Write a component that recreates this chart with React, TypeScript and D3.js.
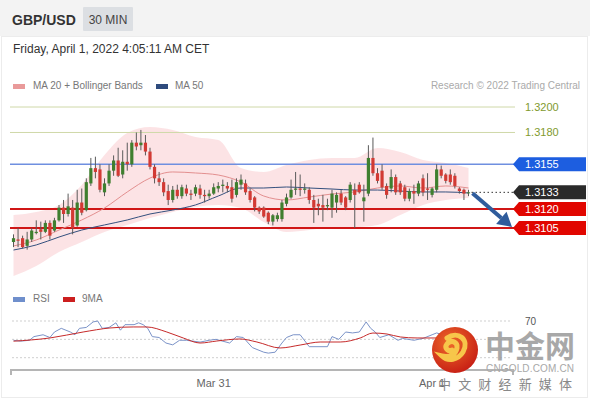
import React from 'react';
import * as d3 from 'd3';

// ---------- DATA ----------
const opens = [
  1.3094, 1.3096, 1.3097, 1.3091, 1.3096, 1.3101, 1.3104, 1.3102, 1.3109, 1.3103,
  1.3111, 1.3121, 1.3116, 1.3121, 1.3107, 1.3125, 1.3119, 1.3140, 1.3152, 1.3151,
  1.3133, 1.3140, 1.3150, 1.3158, 1.3147, 1.3157, 1.3155, 1.3172, 1.3170, 1.3172,
  1.3165, 1.3153, 1.3144, 1.3141, 1.3134, 1.3127, 1.3135, 1.3130, 1.3136, 1.3132,
  1.3132, 1.3136, 1.3131, 1.3130, 1.3132, 1.3136, 1.3138, 1.3138, 1.3137, 1.3131,
  1.3139, 1.3140, 1.3134, 1.3129, 1.3121, 1.3121, 1.3117, 1.3110, 1.3112, 1.3112,
  1.3124, 1.3129, 1.3135, 1.3136, 1.3135, 1.3135, 1.3127, 1.3124, 1.3123, 1.3122,
  1.3121, 1.3125, 1.3132, 1.3129, 1.3127, 1.3135, 1.3139, 1.3126, 1.3132, 1.3160,
  1.3148, 1.3150, 1.3138, 1.3136, 1.3145, 1.3140, 1.3137, 1.3128, 1.3134, 1.3132,
  1.3144, 1.3136, 1.3131, 1.3135, 1.3151, 1.3147, 1.3147, 1.3146, 1.3136, 1.3135, 1.3133,
];
const highs = [
  1.3100, 1.3105, 1.3099, 1.3102, 1.3105, 1.3111, 1.3110, 1.3111, 1.3111, 1.3113,
  1.3123, 1.3127, 1.3132, 1.3127, 1.3135, 1.3136, 1.3144, 1.3160, 1.3161, 1.3155,
  1.3144, 1.3155, 1.3162, 1.3168, 1.3166, 1.3172, 1.3174, 1.3180, 1.3182, 1.3178,
  1.3168, 1.3155, 1.3149, 1.3144, 1.3139, 1.3138, 1.3139, 1.3139, 1.3139, 1.3135,
  1.3139, 1.3139, 1.3135, 1.3135, 1.3140, 1.3141, 1.3143, 1.3141, 1.3143, 1.3144,
  1.3147, 1.3143, 1.3136, 1.3130, 1.3122, 1.3122, 1.3118, 1.3116, 1.3117, 1.3127,
  1.3132, 1.3143, 1.3149, 1.3147, 1.3140, 1.3137, 1.3131, 1.3128, 1.3131, 1.3128,
  1.3135, 1.3133, 1.3135, 1.3130, 1.3141, 1.3140, 1.3141, 1.3139, 1.3170, 1.3176,
  1.3152, 1.3155, 1.3140, 1.3151, 1.3147, 1.3142, 1.3139, 1.3136, 1.3139, 1.3142,
  1.3147, 1.3148, 1.3137, 1.3155, 1.3154, 1.3148, 1.3151, 1.3148, 1.3137, 1.3136, 1.3135,
];
const lows = [
  1.3090, 1.3090, 1.3089, 1.3088, 1.3094, 1.3100, 1.3096, 1.3101, 1.3096, 1.3102,
  1.3110, 1.3109, 1.3114, 1.3100, 1.3106, 1.3115, 1.3118, 1.3138, 1.3144, 1.3133,
  1.3130, 1.3138, 1.3146, 1.3145, 1.3144, 1.3150, 1.3153, 1.3166, 1.3166, 1.3162,
  1.3151, 1.3140, 1.3138, 1.3130, 1.3123, 1.3125, 1.3128, 1.3128, 1.3130, 1.3127,
  1.3130, 1.3128, 1.3125, 1.3128, 1.3131, 1.3133, 1.3133, 1.3133, 1.3125, 1.3129,
  1.3135, 1.3131, 1.3125, 1.3118, 1.3116, 1.3113, 1.3108, 1.3107, 1.3110, 1.3110,
  1.3122, 1.3128, 1.3131, 1.3130, 1.3132, 1.3124, 1.3109, 1.3115, 1.3110, 1.3119,
  1.3113, 1.3117, 1.3123, 1.3119, 1.3125, 1.3105, 1.3132, 1.3110, 1.3130, 1.3146,
  1.3140, 1.3135, 1.3128, 1.3133, 1.3131, 1.3131, 1.3126, 1.3126, 1.3124, 1.3130,
  1.3130, 1.3127, 1.3129, 1.3133, 1.3144, 1.3140, 1.3139, 1.3136, 1.3132, 1.3127, 1.3130,
];
const closes = [
  1.3097, 1.3095, 1.3090, 1.3096, 1.3103, 1.3102, 1.3102, 1.3109, 1.3099, 1.3111,
  1.3121, 1.3116, 1.3122, 1.3105, 1.3125, 1.3117, 1.3141, 1.3152, 1.3149, 1.3135,
  1.3140, 1.3150, 1.3158, 1.3146, 1.3157, 1.3155, 1.3172, 1.3169, 1.3172, 1.3165,
  1.3153, 1.3144, 1.3141, 1.3133, 1.3127, 1.3135, 1.3130, 1.3137, 1.3132, 1.3131,
  1.3137, 1.3131, 1.3130, 1.3132, 1.3137, 1.3138, 1.3139, 1.3136, 1.3128, 1.3141,
  1.3143, 1.3133, 1.3127, 1.3121, 1.3118, 1.3114, 1.3110, 1.3115, 1.3115, 1.3125,
  1.3129, 1.3135, 1.3136, 1.3135, 1.3136, 1.3127, 1.3121, 1.3122, 1.3121, 1.3123,
  1.3132, 1.3131, 1.3125, 1.3121, 1.3139, 1.3131, 1.3133, 1.3129, 1.3160, 1.3148,
  1.3142, 1.3137, 1.3131, 1.3145, 1.3133, 1.3133, 1.3128, 1.3134, 1.3132, 1.3140,
  1.3133, 1.3135, 1.3136, 1.3151, 1.3146, 1.3142, 1.3141, 1.3138, 1.3134, 1.3132, 1.3133,
];

const overlayIndex = [0, 5, 10, 15, 20, 25, 30, 35, 40, 45, 50, 55, 60, 65, 70, 75, 80, 85, 90, 95, 100];
const upperBand = [1.31152, 1.31176, 1.31231, 1.31388, 1.31623, 1.31796, 1.31843, 1.31819, 1.31764, 1.31741,
  1.31521, 1.3149, 1.31545, 1.31584, 1.316, 1.316, 1.31678, 1.31647, 1.31584, 1.3156, 1.31521];
const lowerBand = [1.30673, 1.30752, 1.30862, 1.3094, 1.31019, 1.31074, 1.31128, 1.31176, 1.31215, 1.31231,
  1.31207, 1.31097, 1.31019, 1.31034, 1.31058, 1.31058, 1.31074, 1.31152, 1.31231, 1.3127, 1.31285];
const ma20 = [1.30909, 1.30956, 1.31034, 1.31113, 1.31207, 1.31333, 1.31442, 1.3149, 1.31482, 1.31466,
  1.31411, 1.31301, 1.3127, 1.31293, 1.31317, 1.31333, 1.31364, 1.3138, 1.31364, 1.3138, 1.31364];
const ma50 = [1.30877, 1.30917, 1.30979, 1.31034, 1.31074, 1.31113, 1.3116, 1.31191, 1.31231, 1.31301,
  1.31364, 1.31364, 1.31372, 1.31364, 1.31356, 1.31348, 1.31348, 1.3134, 1.31333, 1.31333, 1.31325];

const rsiIndex = [0, 1.5, 3.5, 4.5, 6.5, 8, 9, 10.5, 12.5, 13.5, 14.5, 16, 17.5, 18.5, 19.5, 21, 22.5, 23.5, 24.5, 26.5,
  27.5, 28.5, 29.5, 30.5, 32, 33.5, 35, 36.5, 38, 41, 43, 44.5, 47.5, 49, 50.5, 52.5, 55, 56, 57.5, 59,
  60, 61.5, 63, 65, 69, 70, 71.5, 73, 74.5, 76, 77.5, 78.5, 79.5, 80.5, 82.5, 84.5, 85.5, 88, 90, 92, 93, 95, 97, 100];
const rsiValues = [49, 48, 49, 53, 55, 52, 58, 62, 58, 55, 62, 63, 69, 70, 62, 63, 68, 60, 66, 66,
  68, 66, 62, 53, 52, 46, 44, 49, 49, 47, 49, 50, 46, 53, 52, 41, 36, 35, 36, 46,
  52, 55, 55, 42, 42, 53, 50, 58, 57, 58, 69, 62, 58, 52, 55, 49, 51, 49, 51, 55, 57, 54, 50, 49];
const rsiMaIndex = [0, 8, 15.3, 21.2, 26.3, 29.3, 33.7, 37.3, 41, 44.7, 49.8, 53.5, 58.6, 63, 67.4, 71.8, 76.2, 79, 82.1, 85, 88.7, 92.2, 100];
const rsiMaValues = [48, 51.5, 58, 62.4, 63.5, 63.5, 58, 51.5, 46, 48.2, 50.4, 47.1, 40.6, 43.8, 47.1, 47.1, 51.5, 56.9, 55.8, 52.6, 51.5, 51.5, 51.5];

const guideLevels = [1.32, 1.318];
const guideLabels = ['1.3200', '1.3180'];
const boxLevels = [1.3155, 1.3133, 1.312, 1.3105];
const boxLabels = ['1.3155', '1.3133', '1.3120', '1.3105'];
const boxColors = ['#1d5ee0', '#2a2a2a', '#e10600', '#e10600'];
const rsiGrid = [70, 50, 30];
const rsiGridLabels = ['70', '', ''];
const xTickIndex = [44, 92];
const xTickLabels = ['Mar 31', 'Apr 1'];

const FONT = "'Liberation Sans', Arial, sans-serif";

export default function App() {
  const W = 590, H = 400;
  const x = d3.scaleLinear().domain([0, 100]).range([13.5, 468.5]);
  const y = d3.scaleLinear().domain([1.3105, 1.32]).range([228, 107]);
  const yr = d3.scaleLinear().domain([30, 70]).range([357.7, 321]);

  const bandArea = d3.area<number>()
    .x((_, i) => x(overlayIndex[i]))
    .y0((_, i) => y(lowerBand[i]))
    .y1((_, i) => y(upperBand[i]))
    .curve(d3.curveMonotoneX);
  const ovLine = (arr: number[]) => d3.line<number>()
    .x((_, i) => x(overlayIndex[i]))
    .y((d) => y(d))
    .curve(d3.curveMonotoneX)(arr) as string;
  const rsiLine = d3.line<number>().x((_, i) => x(rsiIndex[i])).y((d) => yr(d)).curve(d3.curveLinear)(rsiValues) as string;
  const rsiMaLine = d3.line<number>().x((_, i) => x(rsiMaIndex[i])).y((d) => yr(d)).curve(d3.curveMonotoneX)(rsiMaValues) as string;

  const lastI = closes.length - 1;
  const lastX = x(lastI);
  const boxL = 513, boxR = 586;

  // arrow
  const ax0 = lastX + 4, ay0 = y(closes[lastI]) + 1;
  const ax1 = 512, ay1 = y(1.3105) - 1;
  const ang = Math.atan2(ay1 - ay0, ax1 - ax0);
  const headLen = 14, headW = 8;
  const bx = ax1 - headLen * Math.cos(ang), by = ay1 - headLen * Math.sin(ang);
  const px = -Math.sin(ang), py = Math.cos(ang);

  return (
    <svg width={W} height={H} style={{ position: 'absolute', left: 0, top: 0, background: '#fff' }} fontFamily={FONT}>
      <defs>
        <clipPath id="priceClip"><rect x={10} y={98} width={505} height={182} /></clipPath>
        <radialGradient id="wmGrad" cx="40%" cy="35%" r="70%">
          <stop offset="0%" stopColor="#ee6a2a" />
          <stop offset="100%" stopColor="#c61d14" />
        </radialGradient>
      </defs>
      {/* header */}
      <rect x={0} y={0} width={W} height={36} fill="#f3f3f3" />
      <rect x={1.5} y={36.5} width={586} height={361} fill="#fff" stroke="#ececec" />
      <text x={12} y={25} fontSize={14} fontWeight="bold" fill="#333">GBP/USD</text>
      <rect x={83} y={7} width={50} height={24} fill="#dcdfe3" rx={1} />
      <text x={108} y={24} fontSize={12} fill="#444" textAnchor="middle">30 MIN</text>
      <text x={13} y={53} fontSize={12} fill="#333">Friday, April 1, 2022 4:05:11 AM CET</text>

      {/* legend */}
      <rect x={13} y={84} width={12} height={5} fill="#e99a9a" />
      <text x={33} y={89} fontSize={10} fill="#777">MA 20 + Bollinger Bands</text>
      <rect x={156} y={84} width={12} height={5} fill="#2e4b7d" />
      <text x={175} y={89} fontSize={10} fill="#777">MA 50</text>
      <text x={580} y={89} fontSize={10} fill="#aaa" textAnchor="end">Research © 2022 Trading Central</text>

      {/* bollinger */}
      <g clipPath="url(#priceClip)">
        <path d={bandArea(upperBand) as string} fill="#fbdadc" opacity={0.75} />
      </g>

      {/* guide lines */}
      {guideLevels.map((lv, i) => (
        <g key={'g' + i}>
          <line x1={10} x2={515} y1={y(lv)} y2={y(lv)} stroke="#cfd8a8" strokeWidth={1} />
          <text x={525} y={y(lv) + 4} fontSize={11} fill="#7f9a2e">{guideLabels[i]}</text>
        </g>
      ))}
      <line x1={10} x2={515} y1={y(1.3155)} y2={y(1.3155)} stroke="#6f8fe0" strokeWidth={1.5} />
      <line x1={10} x2={515} y1={y(1.312)} y2={y(1.312)} stroke="#d01616" strokeWidth={2} />
      <line x1={10} x2={515} y1={y(1.3105)} y2={y(1.3105)} stroke="#d01616" strokeWidth={2} />

      {/* MAs */}
      <path d={ovLine(ma20)} fill="none" stroke="#e38f8f" strokeWidth={1} />
      <path d={ovLine(ma50)} fill="none" stroke="#34507e" strokeWidth={1} />

      {/* candles */}
      {closes.map((c, i) => {
        const o = opens[i];
        const up = c >= o;
        const col = up ? '#3f7f2f' : '#d23a34';
        const top = y(Math.max(o, c));
        const bot = y(Math.min(o, c));
        return (
          <g key={'c' + i}>
            <line x1={x(i)} x2={x(i)} y1={y(highs[i])} y2={y(lows[i])} stroke="#5a5a5a" strokeWidth={1} />
            <rect x={x(i) - 1.6} y={top} width={3.2} height={Math.max(1, bot - top)} fill={col} />
          </g>
        );
      })}

      {/* current price dotted */}
      <line x1={lastX + 3} x2={boxL} y1={y(1.3133)} y2={y(1.3133)} stroke="#333" strokeWidth={1} strokeDasharray="1.5,2.5" />

      {/* arrow */}
      <line x1={ax0} y1={ay0} x2={bx} y2={by} stroke="#2f5c9c" strokeWidth={4} />
      <path d={`M${ax1},${ay1} L${bx + px * headW},${by + py * headW} L${bx - px * headW},${by - py * headW} Z`} fill="#2f5c9c" />

      {/* level boxes */}
      {boxLevels.map((lv, i) => {
        const yc = y(lv);
        return (
          <g key={'b' + i}>
            <path d={`M${boxL},${yc} L${boxL + 6},${yc - 7} L${boxR},${yc - 7} L${boxR},${yc + 7} L${boxL + 6},${yc + 7} Z`} fill={boxColors[i]} />
            <text x={525} y={yc + 4} fontSize={11} fill="#fff">{boxLabels[i]}</text>
          </g>
        );
      })}

      {/* RSI panel */}
      <rect x={13} y={297} width={12} height={5} fill="#6f8fcc" />
      <text x={33} y={302} fontSize={10} fill="#777">RSI</text>
      <rect x={63} y={297} width={12} height={5} fill="#cc1f1f" />
      <text x={82} y={302} fontSize={10} fill="#777">9MA</text>
      {rsiGrid.map((g, i) => (
        <g key={'r' + i}>
          <line x1={12} x2={512} y1={yr(g)} y2={yr(g)} stroke="#cfcfcf" strokeWidth={1} strokeDasharray="2,2" />
          {rsiGridLabels[i] && <text x={525} y={yr(g) + 4} fontSize={10} fill="#555">{rsiGridLabels[i]}</text>}
        </g>
      ))}
      <path d={rsiLine} fill="none" stroke="#7b93c8" strokeWidth={1} />
      <path d={rsiMaLine} fill="none" stroke="#c62a2a" strokeWidth={1} />

      {/* x axis */}
      <path d={`M11,375 L11,370 L513,370 L513,375`} fill="none" stroke="#b5b5b5" strokeWidth={2} />
      {xTickIndex.map((ti, i) => (
        <text key={'x' + i} x={x(ti)} y={387} fontSize={11} fill="#666" textAnchor="middle">{xTickLabels[i]}</text>
      ))}

      {/* watermark */}
      <g>
        <circle cx={455} cy={350} r={23} fill="url(#wmGrad)" />
        <path d="M447,338 C458,330 470,340 463,352 C458,360 448,362 442,356 C450,358 456,354 457,348 C458,342 451,339 447,344 C444,348 448,352 452,350" fill="none" stroke="#f7c64a" strokeWidth={5} strokeLinecap="round" />
        <text x={485} y={357} fontSize={30} fontWeight="bold" fill="#9a9a9a" opacity={0.85} fontFamily="'Noto Sans CJK SC', sans-serif">中金网</text>
        <text x={486} y={372} fontSize={10} fill="#a8a8a8" textLength={88} lengthAdjust="spacing">CNGOLD.COM.CN</text>
        <text x={438} y={389} fontSize={13} fill="#888" textLength={134} lengthAdjust="spacing" fontFamily="'Noto Sans CJK SC', sans-serif">中 文 财 经 新 媒 体</text>
      </g>
    </svg>
  );
}
